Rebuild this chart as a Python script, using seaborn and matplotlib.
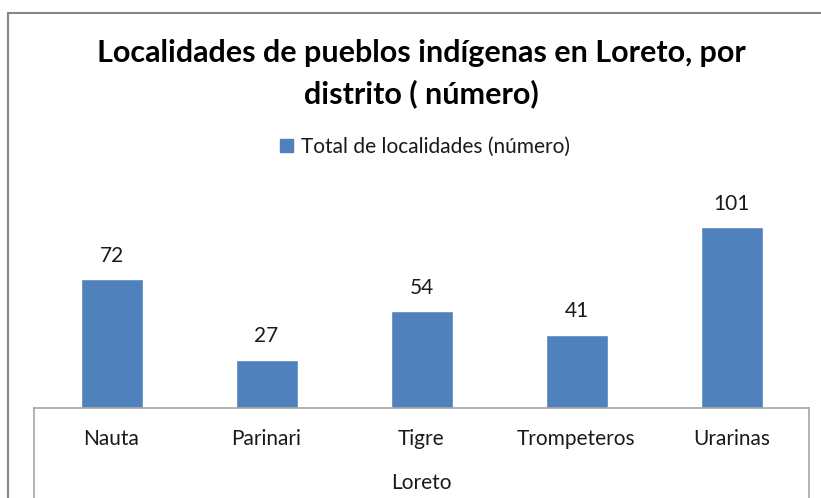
import matplotlib
matplotlib.use("Agg")
import matplotlib.pyplot as plt
from matplotlib.lines import Line2D
from matplotlib.patches import Patch
import pandas as pd
import seaborn as sns

distritos = ["Nauta", "Parinari", "Tigre", "Trompeteros", "Urarinas"]
localidades = [72, 27, 54, 41, 101]
grupo = "Loreto"
titulo = "Localidades de pueblos indígenas en Loreto, por\ndistrito ( número)"
serie = "Total de localidades (número)"

W, H = 821, 498
azul = "#4F81BD"
gris = "#A6A6A6"

sns.set_style("white")
plt.rcParams['font.family'] = ['Lato', 'DejaVu Sans']

df = pd.DataFrame({"distrito": distritos, "total": localidades})

fig = plt.figure(figsize=(W / 100, H / 100), dpi=100)
ax = fig.add_axes([34 / W, 90 / H, 775 / W, 215 / H])
sns.barplot(data=df, x="distrito", y="total", color=azul, width=0.4,
            saturation=1, ax=ax)
ax.set_xlim(-0.5, len(distritos) - 0.5)
ax.set_ylim(0, 120)
ax.set_xlabel("")
ax.set_ylabel("")
ax.set_yticks([])
ax.tick_params(axis="x", length=0, pad=15, labelsize=15, labelcolor="#1a1a1a")
for s in ["left", "right", "top"]:
    ax.spines[s].set_visible(False)
ax.spines["bottom"].set_color(gris)
ax.spines["bottom"].set_linewidth(1.2)
ax.patch.set_alpha(0)

for cont in ax.containers:
    ax.bar_label(cont, padding=9.5, fontsize=15, color="#1a1a1a")

# category box lines and outer chart frame
for xp in (34, 809):
    fig.add_artist(Line2D([xp / W, xp / W], [0, 90 / H], color=gris, lw=1.2))
fig.add_artist(Line2D([8 / W, 8 / W], [0, 1 - 13 / H], color="#868686", lw=1.5))
fig.add_artist(Line2D([8 / W, 1], [1 - 13 / H, 1 - 13 / H], color="#868686", lw=1.5))

fig.text(421 / W, 1 - 483 / H, grupo, ha="center", va="center",
         fontsize=15, color="#1a1a1a")
fig.text(421 / W, 1 - 73.5 / H, titulo, ha="center", va="center",
         fontsize=22, fontweight="bold", linespacing=1.5, color="black")

fig.legend(handles=[Patch(color=azul, label=serie)], loc="center",
           bbox_to_anchor=(425 / W, 1 - 147 / H), frameon=False,
           fontsize=15, handlelength=0.6, handleheight=0.6, handletextpad=0.4,
           labelcolor="#1a1a1a")

fig.savefig("out.png", dpi=100)
